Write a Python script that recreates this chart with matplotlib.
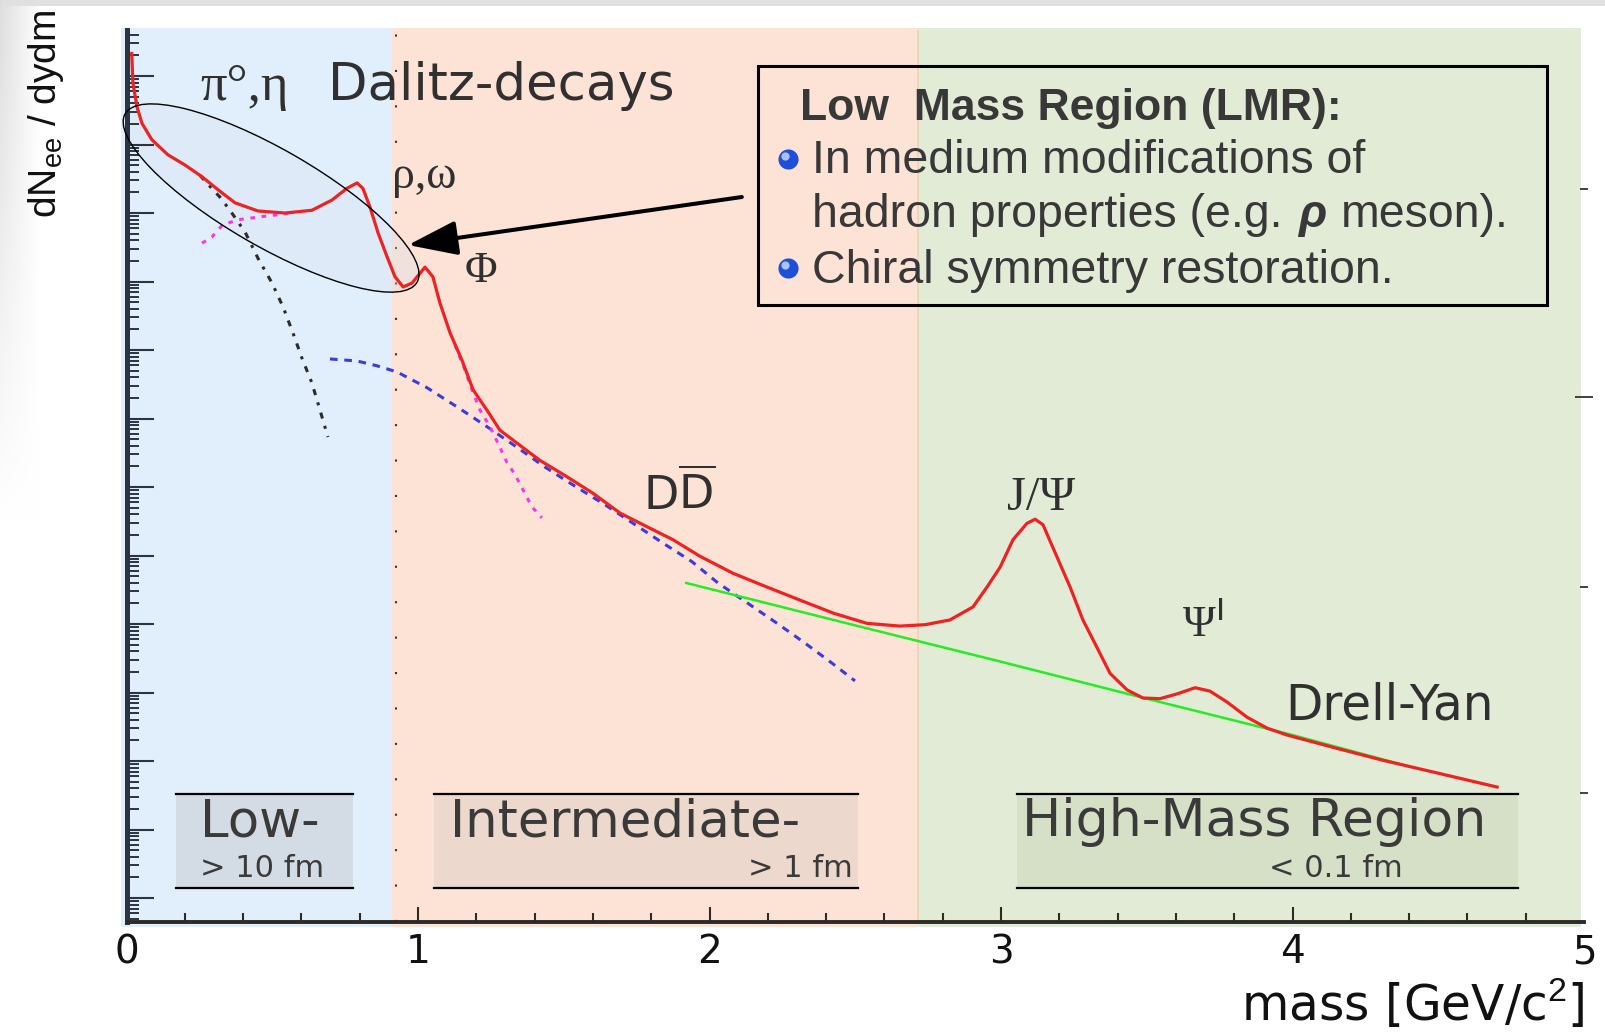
import matplotlib.pyplot as plt
import matplotlib.transforms as mtransforms
import numpy as np
from matplotlib.patches import Ellipse, Rectangle
from matplotlib.ticker import LogLocator, MultipleLocator, NullFormatter

plt.rcParams["mathtext.fontset"] = "custom"
plt.rcParams["mathtext.rm"] = "Liberation Sans"
plt.rcParams["mathtext.sf"] = "DejaVu Sans"

# Dilepton spectrum, mass in GeV/c^2, yields given as log10(dN/dydm) (arb. units)
total_mass = [0.018, 0.022, 0.036, 0.053, 0.087, 0.142, 0.201, 0.259, 0.314, 0.372,
              0.451, 0.544, 0.636, 0.705, 0.756, 0.791, 0.811, 0.835, 0.863, 0.894,
              0.921, 0.949, 0.980, 1.024, 1.051, 1.075, 1.110, 1.151, 1.189, 1.237,
              1.281, 1.340, 1.418, 1.511, 1.600, 1.693, 1.786, 1.875, 1.967, 2.081,
              2.197, 2.310, 2.424, 2.540, 2.653, 2.739, 2.825, 2.904, 2.952, 2.997,
              3.041, 3.089, 3.117, 3.144, 3.192, 3.237, 3.281, 3.329, 3.374, 3.432,
              3.487, 3.545, 3.604, 3.666, 3.717, 3.776, 3.844, 3.913, 3.981, 4.139,
              4.311, 4.482, 4.702]
total_log = [2.33, 1.90, 1.55, 1.31, 1.07, 0.85, 0.70, 0.53, 0.34, 0.15,
             0.03, 0.00, 0.04, 0.19, 0.36, 0.44, 0.36, 0.09, -0.29, -0.64,
             -0.93, -1.08, -1.02, -0.79, -0.93, -1.31, -1.75, -2.15, -2.58, -2.88,
             -3.17, -3.36, -3.61, -3.85, -4.09, -4.38, -4.58, -4.77, -5.01, -5.26,
             -5.46, -5.65, -5.84, -5.99, -6.03, -6.01, -5.94, -5.75, -5.46, -5.17,
             -4.77, -4.53, -4.47, -4.55, -5.02, -5.46, -5.94, -6.34, -6.72, -6.96,
             -7.08, -7.09, -7.02, -6.93, -6.98, -7.14, -7.36, -7.52, -7.62, -7.80,
             -7.99, -8.16, -8.38]

dalitz_mass = [0.252, 0.286, 0.321, 0.355, 0.407, 0.451, 0.499, 0.537, 0.571, 0.602, 0.636, 0.664, 0.691]
dalitz_log = [0.55, 0.39, 0.23, 0.04, -0.28, -0.66, -1.02, -1.37, -1.75, -2.12, -2.48, -2.88, -3.27]

rho_low_mass = [0.259, 0.293, 0.328, 0.379, 0.451, 0.527, 0.560]
rho_low_log = [-0.44, -0.35, -0.18, -0.10, -0.06, -0.02, 0.00]
rho_high_mass = [1.127, 1.161, 1.185, 1.213, 1.247, 1.281, 1.305, 1.333, 1.360, 1.391, 1.425]
rho_high_log = [-1.93, -2.29, -2.58, -2.88, -3.12, -3.42, -3.64, -3.82, -4.04, -4.29, -4.45]

ccbar_mass = [0.698, 0.791, 0.859, 0.928, 1.031, 1.134, 1.237, 1.333, 1.436, 1.532,
              1.642, 1.738, 1.841, 1.940, 2.029, 2.129, 2.232, 2.328, 2.420, 2.499]
ccbar_log = [-2.13, -2.16, -2.23, -2.32, -2.55, -2.83, -3.12, -3.40, -3.71, -3.97,
             -4.26, -4.53, -4.82, -5.09, -5.40, -5.69, -5.99, -6.28, -6.57, -6.83]

drell_yan_mass = [1.92, 2.5, 3.0, 3.5, 4.0, 4.4]
drell_yan_log = [-5.40, -6.02, -6.55, -7.09, -7.62, -8.08]

# mass regions: LMR / IMR / HMR
region_edges = [-0.02, 0.911, 2.715, 4.991]
region_colors = ["#e1effc", "#fde3d5", "#e2ebd5"]
region_titles = ["Low-", "Intermediate-", "High-Mass Region"]
region_scales = ["> 10 fm", "> 1 fm", "< 0.1 fm"]
label_boxes = [(0.170, 0.777), (1.055, 2.509), (3.055, 4.774)]
label_box_colors = ["#d3dbe4", "#ecd8cd", "#d6e0c6"]

right_major_log = [-2.69]
right_minor_log = [0.35, -5.46, -8.47]

fig = plt.figure(figsize=(16.05, 10.34), dpi=100)

# grey frame along the top and upper left edge
bg = fig.add_axes([0, 0, 1, 1], zorder=-10)
rows, cols = np.mgrid[0:1034, 0:1605]
shade = np.clip(1 - cols / 40.0, 0, 1) * np.clip(1 - rows / 520.0, 0, 1) * 0.13
shade = np.maximum(shade, np.where(rows < 6, 0.12, 0.0))
bg.imshow(np.dstack([1 - shade] * 3), extent=[0, 1, 0, 1], aspect="auto", origin="upper")
bg.axis("off")

ax = fig.add_axes([126.5 / 1605, 112 / 1034, 1457.5 / 1605, 892 / 1034])
ax.set_yscale("log")
ax.set_xlim(0, 5)
ax.set_ylim(10 ** -10.35, 10 ** 2.672)
ax.autoscale(False)
bt = mtransforms.blended_transform_factory(ax.transData, ax.transAxes)

for lo, hi, col in zip(region_edges[:-1], region_edges[1:], region_colors):
    ax.axvspan(lo, hi, ymin=-0.006, ymax=1.002, color=col, lw=0, zorder=0, clip_on=False)
ax.axvline(region_edges[2], color="#eed3b0", lw=1.2, zorder=0.5)
ax.axvline(0.925, color="#333333", lw=1.5, ls=(0, (1, 16)), zorder=0.6)

# highlighted low-mass part of the spectrum
ell_pos = mtransforms.ScaledTranslation(0.496, 10 ** 0.219, ax.transData)
ell_trans = fig.dpi_scale_trans + ell_pos
ax.add_patch(Ellipse((0, 0), 3.37, 0.97, angle=-30, transform=ell_trans,
                     facecolor="#d8dff0", alpha=0.3, edgecolor="none", zorder=1, clip_on=False))

ax.plot(dalitz_mass, 10 ** np.array(dalitz_log), color="#2b2b2b", lw=2.2,
        ls=(0, (2, 2.5, 1, 2.5)), zorder=2)
ax.plot(ccbar_mass, 10 ** np.array(ccbar_log), color="#3b3be0", lw=2.2,
        ls=(0, (2.5, 2.2)), zorder=2)
ax.plot(rho_low_mass, 10 ** np.array(rho_low_log), color="#ff33ee", lw=2.2,
        ls=(0, (1.5, 2.2)), zorder=2)
ax.plot(rho_high_mass, 10 ** np.array(rho_high_log), color="#ff33ee", lw=2.2,
        ls=(0, (1.5, 2.2)), zorder=2)
ax.plot(drell_yan_mass, 10 ** np.array(drell_yan_log), color="#22ee22", lw=1.8, zorder=2.5)
ax.plot(total_mass, 10 ** np.array(total_log), color="#ee2222", lw=2.3, zorder=3,
        solid_joinstyle="round")

ax.add_patch(Ellipse((0, 0), 3.37, 0.97, angle=-30, transform=ell_trans,
                     fill=False, edgecolor="black", lw=1.0, zorder=4, clip_on=False))

# region name boxes at the bottom
for (lo, hi), col in zip(label_boxes, label_box_colors):
    ax.add_patch(Rectangle((lo, 0.0381), hi - lo, 0.1054, transform=bt,
                           facecolor=col, edgecolor="none", zorder=1))
    ax.plot([lo, hi], [0.1435, 0.1435], color="black", lw=1.6, transform=bt, zorder=1.2)
    ax.plot([lo, hi], [0.0381, 0.0381], color="black", lw=1.6, transform=bt, zorder=1.2)

txt = "#3a3a3a"
ax.text(0.252, 0.0964, region_titles[0], transform=bt, size=37, color=txt, va="baseline")
ax.text(0.252, 0.0504, region_scales[0], transform=bt, size=22, color=txt, va="baseline")
ax.text(1.110, 0.0964, region_titles[1], transform=bt, size=37, color=txt, va="baseline")
ax.text(2.492, 0.0504, region_scales[1], transform=bt, size=22, color=txt, va="baseline", ha="right")
ax.text(3.072, 0.0964, region_titles[2], transform=bt, size=37.5, color=txt, va="baseline")
ax.text(3.919, 0.0504, region_scales[2], transform=bt, size=22, color=txt, va="baseline")

# process labels
lab = "#303030"
ax.text(0.0504, 0.9215, "π°,η", transform=ax.transAxes, family="Liberation Serif",
        size=38, color=lab, va="baseline")
ax.text(0.1383, 0.9215, "Dalitz-decays", transform=ax.transAxes, size=37, color=lab, va="baseline")
ax.text(0.1822, 0.8229, "ρ,ω", transform=ax.transAxes, family="Liberation Serif",
        size=33, color=lab, va="baseline")
ax.text(0.2323, 0.7175, "Φ", transform=ax.transAxes, family="Liberation Serif",
        size=32, color=lab, va="baseline")
ax.text(0.3544, 0.4619, r"D$\overline{\mathsf{D}}$", transform=ax.transAxes, size=33,
        color=lab, va="baseline")
ax.text(0.6041, 0.4619, "J/Ψ", transform=ax.transAxes, family="Liberation Serif",
        size=35, color=lab, va="baseline")
ax.text(0.7242, 0.3195, r"Ψ$^{\mathsf{I}}$", transform=ax.transAxes, family="Liberation Serif",
        size=32, color=lab, va="baseline")
ax.text(0.7949, 0.2265, "Drell-Yan", transform=ax.transAxes, size=35, color=lab, va="baseline")

# LMR physics box with arrow
ax.annotate("", xy=(0.966, 10 ** -0.467), xytext=(2.111, 10 ** 0.234),
            arrowprops=dict(arrowstyle="-|>,head_length=0.8,head_width=0.28", mutation_scale=38,
                            lw=2.9, color="black", shrinkA=0, shrinkB=0), zorder=5)
ax.add_patch(Rectangle((2.166, 0.6917), 4.873 - 2.166, 0.9596 - 0.6917, transform=bt,
                       fill=False, lw=2.2, edgecolor="black", zorder=5))
box_font = dict(family="Liberation Sans", color="#383838", va="baseline", transform=bt, zorder=6)
ax.text(2.310, 0.8991, "Low  Mass Region (LMR):", size=32, fontweight="bold", **box_font)
ax.text(2.351, 0.8397, "In medium modifications of", size=33.5, **box_font)
t_had = ax.text(2.351, 0.7791, "hadron properties (e.g.", size=33.5, **box_font)
t_rho = ax.annotate("ρ", xy=(1, 0), xycoords=t_had, xytext=(11, 0), textcoords="offset points",
                    family="Liberation Sans", size=33.5, fontweight="bold", fontstyle="italic",
                    color="#383838", va="bottom", zorder=6)
ax.annotate("meson).", xy=(1, 0), xycoords=t_rho, xytext=(11, 0), textcoords="offset points",
            family="Liberation Sans", size=33.5, color="#383838", va="bottom", zorder=6)
ax.text(2.351, 0.7164, "Chiral symmetry restoration.", size=33.5, **box_font)

bullet_y = [0.8554, 0.7332]
ax.scatter([2.269, 2.269], bullet_y, s=210, color="#1f4fd6", transform=bt, zorder=6, lw=0)
glint = bt + mtransforms.ScaledTranslation(-0.03, 0.03, fig.dpi_scale_trans)
ax.scatter([2.269, 2.269], bullet_y, s=35, color="#a8c4ff", transform=glint, zorder=6.5, lw=0)

# axes styling
for side in ("top", "right"):
    ax.spines[side].set_visible(False)
ax.spines["left"].set_linewidth(3.6)
ax.spines["left"].set_color("#2b3440")
ax.spines["bottom"].set_linewidth(2.8)
ax.spines["bottom"].set_color("#2d2a28")

ax.yaxis.set_major_locator(LogLocator(base=10, subs=(1.0,), numticks=100))
ax.yaxis.set_minor_locator(LogLocator(base=10, subs=np.arange(2, 10), numticks=100))
ax.yaxis.set_minor_formatter(NullFormatter())
ax.tick_params(axis="y", which="major", direction="in", length=19.5, width=1.5,
               color="#2b3440", labelleft=False)
ax.tick_params(axis="y", which="minor", direction="in", length=8.6, width=1.4,
               color="#2b3440", labelleft=False)

axr = ax.twinx()
axr.set_yscale("log")
axr.set_ylim(ax.get_ylim())
axr.set_yticks(10 ** np.array(right_major_log))
axr.set_yticks(10 ** np.array(right_minor_log), minor=True)
axr.tick_params(axis="y", which="major", direction="inout", length=13, width=1.3,
                color="#333333", labelright=False)
axr.tick_params(axis="y", which="minor", direction="inout", length=5.5, width=1.3,
                color="#333333", labelright=False)
for s in axr.spines.values():
    s.set_visible(False)

ax.set_xticks([0, 1, 2, 3, 4, 5])
ax.xaxis.set_minor_locator(MultipleLocator(0.2))
ax.tick_params(axis="x", which="major", direction="in", length=10.8, width=1.5,
               color="#2d2a28", labelsize=28, labelcolor="#111111", pad=8)
ax.tick_params(axis="x", which="minor", direction="in", length=6.5, width=1.5, color="#2d2a28")
ax.xaxis.get_major_ticks()[0].tick1line.set_visible(False)
ax.xaxis.get_major_ticks()[-1].tick1line.set_visible(False)

fig.text(0.0287, 0.8897, r"dN$_{\mathrm{ee}}$ / dydm", rotation=90, ha="center", va="center",
         size=28, family="Liberation Sans", color="#111111")
fig.text(0.9875, 0.0125, r"mass [GeV/c$^2$]", ha="right", va="baseline", size=35,
         color="#111111")

fig.savefig("out.png", dpi=100)
